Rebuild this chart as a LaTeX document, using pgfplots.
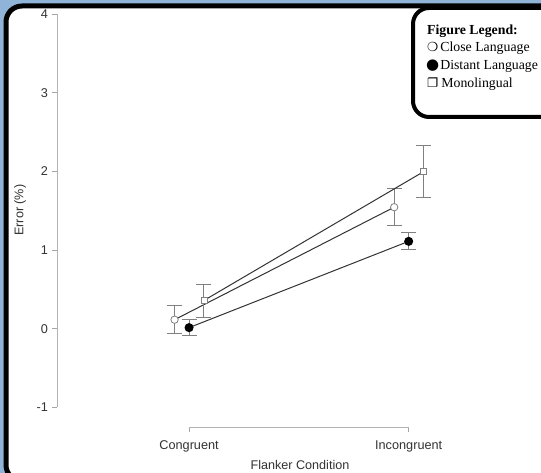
\documentclass[border=0pt]{standalone}
\usepackage{fontspec}
\setmainfont{Liberation Sans}
\newfontfamily\legfont{Liberation Serif}
\newfontfamily\symfont{DejaVu Sans}
\usepackage{pgfplots}
\pgfplotsset{compat=1.18}
\definecolor{bgblue}{RGB}{143,180,215}
\begin{document}
\begin{tikzpicture}[x=1pt,y=1pt]
\useasboundingbox (0,0) rectangle (541,473);
\clip (0,0) rectangle (541,473);
\fill[bgblue] (0,0) rectangle (541,473);
\draw[line width=5pt, fill=white, rounded corners=16pt] (6,-8) rectangle (600,467);
\begin{axis}[
  at={(57.5pt,46pt)}, anchor=south west, scale only axis,
  width=461pt, height=413pt,
  xmin=-0.599, xmax=1.5, ymin=-1.25, ymax=4,
  axis line style={draw=none},
  axis x line*=bottom, axis y line*=left,
  xtick={0,1}, xticklabels={Congruent,Incongruent},
  ytick={-1,0,1,2,3,4},
  tick align=outside, major tick length=5pt,
  tick style={gray!70, line width=0.7pt},
  ticklabel style={font=\fontsize{12.7}{14}\selectfont, text=black!80},
  yticklabel style={xshift=-1pt},
  xticklabel style={yshift=-5pt},
  xlabel={Flanker Condition}, ylabel={Error (\%)},
  label style={font=\fontsize{12.6}{14}\selectfont, text=black!80},
  xlabel style={at={(axis description cs:0.526,0)}, anchor=center, yshift=-38.5pt},
  ylabel style={at={(axis description cs:-0.081,0.525)}, anchor=center},
  clip=false,
  /pgf/number format/assume math mode=true,
]
\draw[gray!60, line width=0.8pt] (axis cs:-0.599,-1) -- (axis cs:-0.599,4);
\draw[gray!60, line width=0.8pt] (axis cs:0,-1.25) -- (axis cs:1,-1.25);
% Close Language
\addplot[black!80, line width=1pt, mark=*, mark size=3.7pt,
  mark options={fill=white, draw=gray, line width=0.8pt},
  error bars/.cd, y dir=both, y explicit,
  error bar style={gray, line width=1pt},
  error mark options={rotate=90, mark size=7.5pt, gray, line width=1pt}]
  coordinates {(-0.066,0.114) += (0,0.181) -= (0,0.173)
               (0.934,1.544) += (0,0.232) -= (0,0.232)};
% Distant Language
\addplot[black!80, line width=1pt, mark=*, mark size=4pt,
  mark options={fill=black, draw=black},
  error bars/.cd, y dir=both, y explicit,
  error bar style={gray, line width=1pt},
  error mark options={rotate=90, mark size=7.5pt, gray, line width=1pt}]
  coordinates {(0,0.013) += (0,0.109) -= (0,0.106)
               (1,1.110) += (0,0.114) -= (0,0.110)};
% Monolingual
\addplot[black!80, line width=1pt, mark=square*, mark size=3pt,
  mark options={fill=white, draw=gray, line width=0.8pt},
  error bars/.cd, y dir=both, y explicit,
  error bar style={gray, line width=1pt},
  error mark options={rotate=90, mark size=7.5pt, gray, line width=1pt}]
  coordinates {(0.068,0.359) += (0,0.206) -= (0,0.211)
               (1.068,1.996) += (0,0.337) -= (0,0.334)};
\end{axis}
\draw[line width=4pt, fill=white, rounded corners=16pt] (413,356) rectangle (620,465);
\node[anchor=base west, inner sep=0pt, font=\legfont\fontsize{13.8}{15}\selectfont\bfseries] at (427,438) {Figure Legend:};
\node[anchor=base west, inner sep=0pt, font=\legfont\fontsize{13.8}{15}\selectfont] at (427,421) {{\symfont\fontsize{12.5}{13}\selectfont ❍}\hspace{2pt}Close Language};
\node[anchor=base west, inner sep=0pt, font=\legfont\fontsize{13.8}{15}\selectfont] at (426,403) {{\symfont\fontsize{15}{13}\selectfont ●}\hspace{1pt}Distant Language};
\node[anchor=base west, inner sep=0pt, font=\legfont\fontsize{13.8}{15}\selectfont] at (427,385) {{\symfont\fontsize{12.5}{13}\selectfont ❐}\hspace{3pt}Monolingual};
\end{tikzpicture}
\end{document}
